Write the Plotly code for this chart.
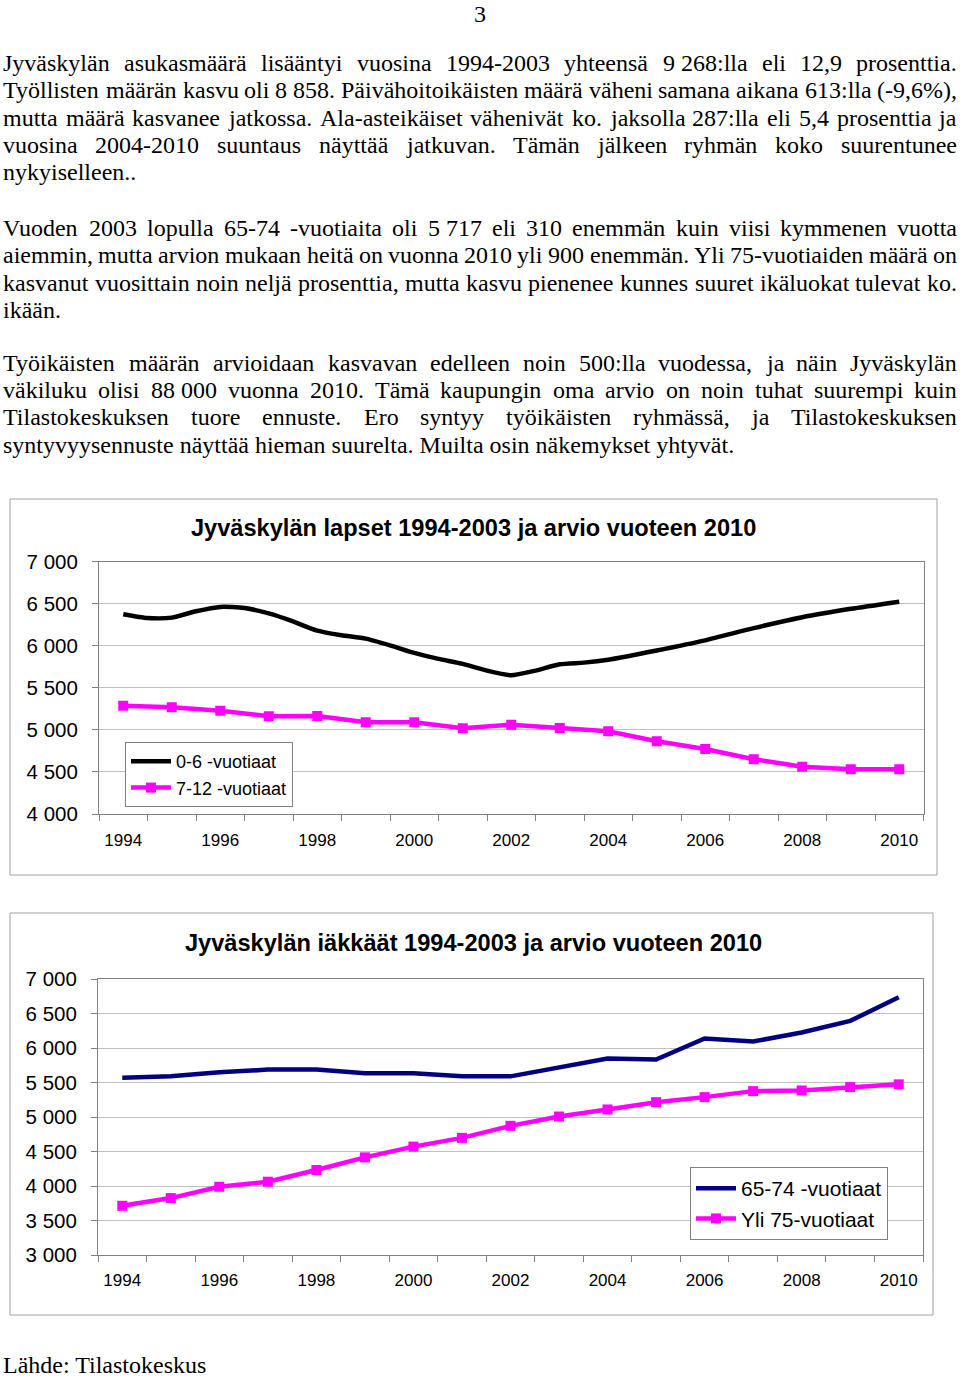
import plotly.graph_objects as go

W, H = 960, 1379

# ---------------- data ----------------
years = [1994, 1995, 1996, 1997, 1998, 1999, 2000, 2001, 2002, 2003,
         2004, 2005, 2006, 2007, 2008, 2009, 2010]
x_tick_years = [1994, 1996, 1998, 2000, 2002, 2004, 2006, 2008, 2010]
x_tick_labels = ["1994", "1996", "1998", "2000", "2002", "2004", "2006", "2008", "2010"]

# Chart 1: children
kids_0_6_t = [1994, 1994.5, 1995, 1995.5, 1996, 1996.5, 1997, 1997.5, 1998, 1998.5,
              1999, 1999.5, 2000, 2000.5, 2001, 2001.5, 2002, 2002.5, 2003, 2003.5,
              2004, 2005, 2006, 2007, 2008, 2009, 2010]
kids_0_6 = [6375, 6330, 6335, 6410, 6462, 6450, 6385, 6290, 6180, 6125,
            6085, 6005, 5915, 5845, 5785, 5705, 5650, 5705, 5780, 5800,
            5835, 5945, 6065, 6210, 6340, 6440, 6525]
kids_7_12 = [5288, 5269, 5228, 5162, 5165, 5090, 5090, 5019, 5062, 5023,
             4983, 4865, 4773, 4651, 4563, 4532, 4532]

# Chart 2: elderly
old_65_74 = [5570, 5589, 5647, 5687, 5687, 5633, 5633, 5589, 5589, 5724,
             5847, 5832, 6137, 6094, 6225, 6393, 6734]
old_75_plus = [3713, 3825, 3989, 4062, 4232, 4415, 4571, 4698, 4872, 5007,
               5109, 5215, 5288, 5375, 5385, 5433, 5473]

y1_ticks = [4000, 4500, 5000, 5500, 6000, 6500, 7000]
y1_labels = ["4 000", "4 500", "5 000", "5 500", "6 000", "6 500", "7 000"]
y2_ticks = [3000, 3500, 4000, 4500, 5000, 5500, 6000, 6500, 7000]
y2_labels = ["3 000", "3 500", "4 000", "4 500", "5 000", "5 500", "6 000", "6 500", "7 000"]

title1 = "Jyväskylän lapset 1994-2003 ja arvio vuoteen 2010"
title2 = "Jyväskylän iäkkäät 1994-2003 ja arvio vuoteen 2010"
names = ["0-6 -vuotiaat", "7-12 -vuotiaat", "65-74 -vuotiaat", "Yli 75-vuotiaat"]

NB = "\u00a0"
# (text, baseline y in px, justified)
body_lines = [
    ("Jyväskylän asukasmäärä lisääntyi vuosina 1994-2003 yhteensä 9" + NB + "268:lla eli 12,9 prosenttia.", 71.0, True),
    ("Työllisten määrän kasvu oli 8" + NB + "858. Päivähoitoikäisten määrä väheni samana aikana 613:lla (-9,6%),", 98.4, True),
    ("mutta määrä kasvanee jatkossa. Ala-asteikäiset vähenivät ko. jaksolla 287:lla eli 5,4 prosenttia ja", 125.8, True),
    ("vuosina 2004-2010 suuntaus näyttää jatkuvan. Tämän jälkeen ryhmän koko suurentunee", 153.2, True),
    ("nykyiselleen..", 180.6, False),
    ("Vuoden 2003 lopulla 65-74 -vuotiaita oli 5" + NB + "717 eli 310 enemmän kuin viisi kymmenen vuotta", 236.0, True),
    ("aiemmin, mutta arvion mukaan heitä on vuonna 2010 yli 900 enemmän. Yli 75-vuotiaiden määrä on", 263.4, True),
    ("kasvanut vuosittain noin neljä prosenttia, mutta kasvu pienenee kunnes suuret ikäluokat tulevat ko.", 290.8, True),
    ("ikään.", 318.2, False),
    ("Työikäisten määrän arvioidaan kasvavan edelleen noin 500:lla vuodessa, ja näin Jyväskylän", 370.7, True),
    ("väkiluku olisi 88" + NB + "000 vuonna 2010. Tämä kaupungin oma arvio on noin tuhat suurempi kuin", 398.1, True),
    ("Tilastokeskuksen tuore ennuste. Ero syntyy työikäisten ryhmässä, ja Tilastokeskuksen", 425.5, True),
    ("syntyvyysennuste näyttää hieman suurelta. Muilta osin näkemykset yhtyvät.", 452.9, False),
]
source_text = "Lähde: Tilastokeskus"
page_number = "3"

# ---------------- helpers ----------------
def px(x):
    return x / W


def py(y):
    return 1 - y / H


SERIF = "Liberation Serif, Times New Roman, serif"
SANS = "Liberation Sans, Arial, sans-serif"
BODY_SIZE = 24

# Times / Liberation Serif advance widths (1/1000 em)
TW = {" ": 250, NB: 250, "%": 833, "(": 333, ")": 333, ",": 250, "-": 333, ".": 250, ":": 278,
      "A": 722, "E": 611, "J": 389, "L": 611, "M": 889, "P": 556, "T": 611, "V": 722, "Y": 722,
      "a": 444, "b": 500, "c": 444, "d": 500, "e": 444, "f": 333, "g": 500, "h": 500, "i": 278,
      "j": 278, "k": 500, "l": 278, "m": 778, "n": 500, "o": 500, "p": 500, "q": 500, "r": 333,
      "s": 389, "t": 278, "u": 500, "v": 500, "w": 722, "x": 500, "y": 500, "z": 444,
      "ä": 444, "ö": 500}
for d in "0123456789":
    TW[d] = 500


def text_w(s, size):
    return sum(TW.get(c, 500) for c in s) / 1000.0 * size


annotations = []
LEFT, RIGHT = 3, 957


def body_ann(text, x, base, anchor="left"):
    # middle of the text box sits about 0.3375 em above the baseline
    annotations.append(dict(
        text=text, x=px(x), y=py(base - 0.3375 * BODY_SIZE), xref="paper", yref="paper",
        xanchor=anchor, yanchor="middle", showarrow=False, borderpad=0, borderwidth=0,
        font=dict(family=SERIF, size=BODY_SIZE, color="black")))


for text, base, justified in body_lines:
    if not justified:
        body_ann(text, LEFT, base)
        continue
    words = text.split(" ")
    widths = [text_w(w, BODY_SIZE) for w in words]
    gap = (RIGHT - LEFT - sum(widths)) / (len(words) - 1)
    xcur = LEFT
    for i, (w, wd) in enumerate(zip(words, widths)):
        if i == len(words) - 1:
            body_ann(w, RIGHT, base, anchor="right")
        else:
            body_ann(w, xcur, base)
        xcur += wd + gap

body_ann(source_text, LEFT, 1373)
body_ann(page_number, 480, 21.8, anchor="center")

# chart titles
for t, yc in [(title1, 528), (title2, 943)]:
    annotations.append(dict(
        text="<b>" + t + "</b>", x=px(473), y=py(yc), xref="paper", yref="paper",
        xanchor="center", yanchor="middle", showarrow=False,
        font=dict(family=SANS, size=23.6, color="black")))

# ---------------- figure ----------------
fig = go.Figure()

fig.add_trace(go.Scatter(
    x=kids_0_6_t, y=kids_0_6, mode="lines", name=names[0],
    line=dict(color="black", width=4.5, shape="spline", smoothing=0.6),
    xaxis="x", yaxis="y", legend="legend", legendgroup="a"))
fig.add_trace(go.Scatter(
    x=years, y=kids_7_12, mode="lines+markers", name=names[1],
    line=dict(color="#FF00FF", width=4.5),
    marker=dict(symbol="square", size=10, color="#FF00FF"),
    xaxis="x", yaxis="y", legend="legend", legendgroup="b"))
fig.add_trace(go.Scatter(
    x=years, y=old_65_74, mode="lines", name=names[2],
    line=dict(color="#000080", width=4.5),
    xaxis="x2", yaxis="y2", legend="legend2", legendgroup="c"))
fig.add_trace(go.Scatter(
    x=years, y=old_75_plus, mode="lines+markers", name=names[3],
    line=dict(color="#FF00FF", width=4.5),
    marker=dict(symbol="square", size=10, color="#FF00FF"),
    xaxis="x2", yaxis="y2", legend="legend2", legendgroup="d"))

minor_ticks = [y - 0.5 for y in years] + [years[-1] + 0.5]


def xaxis_cfg(dom, anchor, standoff):
    return dict(
        domain=dom, anchor=anchor, range=[1993.5, 2010.5],
        tickmode="array", tickvals=x_tick_years, ticktext=x_tick_labels,
        ticks="", showgrid=False, zeroline=False, showline=True, mirror=True,
        linecolor="#808080", linewidth=1, ticklabelstandoff=standoff,
        tickfont=dict(family=SANS, size=17, color="black"),
        minor=dict(tickvals=minor_ticks, ticks="outside", ticklen=6,
                   tickcolor="#808080", tickwidth=1, showgrid=False),
        automargin=False, fixedrange=True)


def yaxis_cfg(dom, anchor, rng, tv, tt):
    return dict(
        domain=dom, anchor=anchor, range=rng,
        tickmode="array", tickvals=tv, ticktext=tt,
        ticks="outside", ticklen=6, tickcolor="#808080",
        showgrid=True, gridcolor="#c0c0c0", gridwidth=1,
        zeroline=False, showline=True, mirror=True,
        linecolor="#808080", linewidth=1, ticklabelstandoff=10,
        tickfont=dict(family=SANS, size=20.5, color="black"),
        automargin=False, fixedrange=True)


fig.update_layout(
    width=W, height=H, autosize=False,
    margin=dict(l=0, r=0, t=0, b=0),
    paper_bgcolor="white", plot_bgcolor="white",
    xaxis=xaxis_cfg([px(99), px(923.5)], "y", 11),
    yaxis=yaxis_cfg([py(814), py(561.7)], "x", [4000, 7000], y1_ticks, y1_labels),
    xaxis2=xaxis_cfg([px(98), px(923)], "y2", 10),
    yaxis2=yaxis_cfg([py(1255), py(979)], "x2", [3000, 7000], y2_ticks, y2_labels),
    legend=dict(x=px(125), y=py(742), xanchor="left", yanchor="top",
                bgcolor="white", bordercolor="#808080", borderwidth=1,
                font=dict(family=SANS, size=18, color="black"),
                tracegroupgap=0, itemwidth=40),
    legend2=dict(x=px(690), y=py(1167), xanchor="left", yanchor="top",
                 bgcolor="white", bordercolor="#808080", borderwidth=1,
                 font=dict(family=SANS, size=21, color="black"),
                 tracegroupgap=0, itemwidth=40),
    annotations=annotations,
    shapes=[
        dict(type="rect", xref="paper", yref="paper", x0=px(10), x1=px(937), y0=py(875), y1=py(499),
             line=dict(color="#a0a0a0", width=1), layer="below"),
        dict(type="rect", xref="paper", yref="paper", x0=px(10), x1=px(933), y0=py(1315), y1=py(913),
             line=dict(color="#a0a0a0", width=1), layer="below"),
    ],
)

fig.write_html(
    "out.html",
    config={"displayModeBar": False},
    post_script="document.body.style.margin='0px';document.body.style.overflow='hidden';",
)
